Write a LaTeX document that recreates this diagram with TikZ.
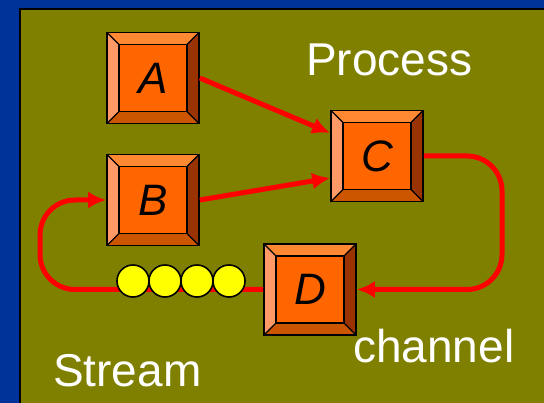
\documentclass[tikz,border=0pt]{standalone}
\usepackage{fontspec}
\setmainfont{Liberation Sans}
\usetikzlibrary{arrows.meta}
\definecolor{bgblue}{HTML}{003399}
\definecolor{panel}{HTML}{808000}
\definecolor{face}{HTML}{FF6600}
\definecolor{bvtop}{HTML}{FF8833}
\definecolor{bvleft}{HTML}{FF9966}
\definecolor{bvright}{HTML}{993300}
\definecolor{bvbot}{HTML}{CC5500}
\definecolor{linered}{HTML}{FF0000}
\definecolor{ball}{HTML}{FFFF00}
\tikzset{
  boxnode/.style={draw=black, line width=1.6pt, fill=face, minimum width=92pt, minimum height=91pt,
    inner sep=0pt, font=\fontsize{44}{44}\selectfont\itshape, text=black,
    path picture={
      \coordinate (nw) at (path picture bounding box.north west);
      \coordinate (ne) at (path picture bounding box.north east);
      \coordinate (sw) at (path picture bounding box.south west);
      \coordinate (se) at (path picture bounding box.south east);
      \coordinate (inw) at ([shift={(12pt,-12pt)}]nw);
      \coordinate (ine) at ([shift={(-12pt,-12pt)}]ne);
      \coordinate (isw) at ([shift={(12pt,12pt)}]sw);
      \coordinate (ise) at ([shift={(-12pt,12pt)}]se);
      \fill[bvtop] (nw) -- (ne) -- (ine) -- (inw) -- cycle;
      \fill[bvleft] (nw) -- (inw) -- (isw) -- (sw) -- cycle;
      \fill[bvright] (ne) -- (se) -- (ise) -- (ine) -- cycle;
      \fill[bvbot] (sw) -- (isw) -- (ise) -- (se) -- cycle;
      \draw[black, line width=1.4pt] (inw) rectangle (ise);
      \draw[black, line width=1.4pt] (nw) -- (inw) (ne) -- (ine) (sw) -- (isw) (se) -- (ise);
    }},
  redline/.style={draw=linered, line width=5pt},
  tip/.style={-{Latex[length=18pt,width=17pt]}},
  ballnode/.style={circle, draw=black, line width=1.6pt, fill=ball, minimum size=32pt, inner sep=0pt},
  label/.style={text=white, font=\fontsize{46}{46}\selectfont, inner sep=0pt, anchor=base west}
}
\begin{document}
\begin{tikzpicture}[x=1pt,y=-1pt]
\useasboundingbox (0,0) rectangle (544,403);
\fill[bgblue] (0,0) rectangle (544,403);
\fill[panel] (20,9) rectangle (546,405);
\draw[black, line width=2pt] (20,405) -- (20,9) -- (546,9);

\node[boxnode] (A) at (153,78) {A};
\node[boxnode] (B) at (153,200) {B};
\node[boxnode] (C) at (377,156) {C};
\node[boxnode] (D) at (310,289.5) {D};

\coordinate (cr) at (502,223);
\coordinate (cl) at (40,245);

\draw[redline,tip] (A.east) -- ([yshift=23pt]C.west);
\draw[redline,tip] (B.east) -- ([yshift=-22pt]C.west);
\draw[redline,tip,rounded corners=35pt] (C.east) -- (C.east -| cr) -- (cr |- D.east) -- (D.east);
\draw[redline,tip,rounded corners=35pt] (D.west) -- (D.west -| cl) -- (cl |- B.west) -- (B.west);

\node[ballnode] (b1) at (133,281) {};
\node[ballnode] (b2) at (165,281) {};
\node[ballnode] (b3) at (197,281) {};
\node[ballnode] (b4) at (229,281) {};

\node[label] (proc) at (306,76) {Process};
\node[label] (chan) at (353,363) {channel};
\node[label] (strm) at (53,387) {Stream};
\end{tikzpicture}
\end{document}
